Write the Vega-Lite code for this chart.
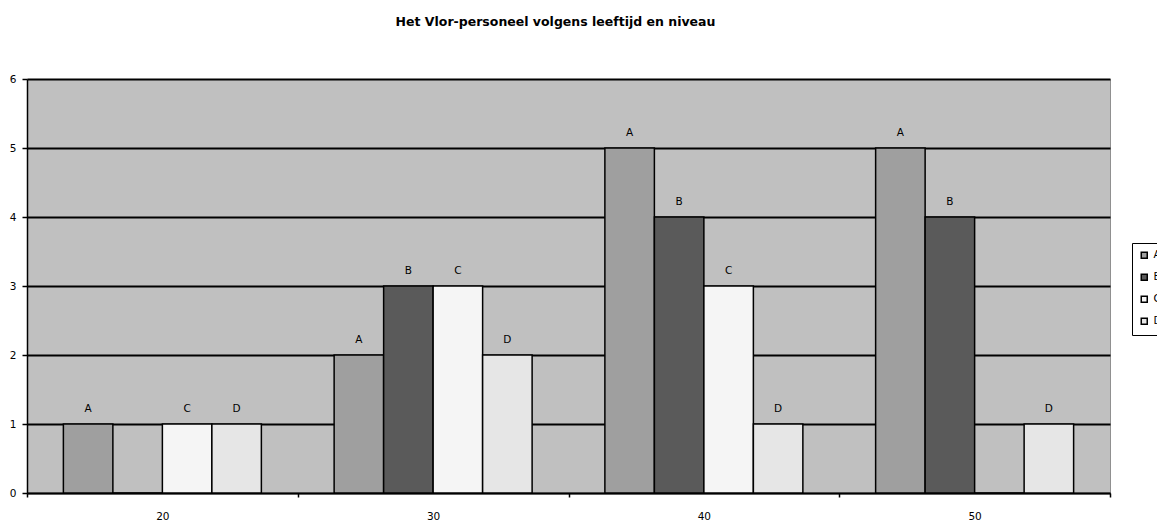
{
  "$schema": "https://vega.github.io/schema/vega-lite/v6.json",
  "width": 1083,
  "height": 414,
  "autosize": {"type": "none"},
  "padding": {"left": 27, "top": 79, "right": 47, "bottom": 27},
  "background": "white",
  "title": {
    "text": "Het Vlor-personeel volgens leeftijd en niveau",
    "font": "DejaVu Sans",
    "fontSize": 12.5,
    "fontWeight": "bold",
    "color": "black",
    "anchor": "middle",
    "offset": 46,
    "dx": -13
  },
  "config": {
    "view": {"fill": "#c0c0c0", "stroke": "#909090", "strokeWidth": 1},
    "font": "DejaVu Sans"
  },
  "data": {
    "values": [
      {"leeftijd": "20", "niveau": "A", "aantal": 1},
      {"leeftijd": "20", "niveau": "B", "aantal": 0},
      {"leeftijd": "20", "niveau": "C", "aantal": 1},
      {"leeftijd": "20", "niveau": "D", "aantal": 1},
      {"leeftijd": "30", "niveau": "A", "aantal": 2},
      {"leeftijd": "30", "niveau": "B", "aantal": 3},
      {"leeftijd": "30", "niveau": "C", "aantal": 3},
      {"leeftijd": "30", "niveau": "D", "aantal": 2},
      {"leeftijd": "40", "niveau": "A", "aantal": 5},
      {"leeftijd": "40", "niveau": "B", "aantal": 4},
      {"leeftijd": "40", "niveau": "C", "aantal": 3},
      {"leeftijd": "40", "niveau": "D", "aantal": 1},
      {"leeftijd": "50", "niveau": "A", "aantal": 5},
      {"leeftijd": "50", "niveau": "B", "aantal": 4},
      {"leeftijd": "50", "niveau": "C", "aantal": 0},
      {"leeftijd": "50", "niveau": "D", "aantal": 1}
    ]
  },
  "encoding": {
    "x": {
      "field": "leeftijd",
      "type": "nominal",
      "title": null,
      "scale": {"paddingInner": 0, "paddingOuter": 0},
      "axis": {
        "labelAngle": 0,
        "tickBand": "extent",
        "domainColor": "black",
        "domainWidth": 1.5,
        "tickColor": "black",
        "tickWidth": 1.5,
        "tickSize": 4,
        "labelPadding": 14,
        "labelFontSize": 10.5,
        "labelColor": "black",
        "grid": false
      }
    },
    "xOffset": {"field": "niveau", "type": "nominal", "scale": {"domain": ["A", "B", "C", "D"], "paddingInner": 0, "paddingOuter": 0.735}},
    "y": {
      "field": "aantal",
      "type": "quantitative",
      "title": null,
      "scale": {"domain": [0, 6], "nice": false},
      "axis": {
        "values": [0, 1, 2, 3, 4, 5, 6],
        "grid": true,
        "gridColor": "black",
        "gridWidth": 2,
        "gridOpacity": 1,
        "domainColor": "black",
        "domainWidth": 1.5,
        "tickColor": "black",
        "tickWidth": 1.5,
        "tickSize": 5,
        "labelPadding": 6,
        "labelFontSize": 10.5,
        "labelColor": "black"
      }
    }
  },
  "layer": [
    {
      "mark": {"type": "bar", "stroke": "black", "strokeWidth": 1.5},
      "encoding": {
        "color": {
          "field": "niveau",
          "type": "nominal",
          "title": null,
          "scale": {"domain": ["A", "B", "C", "D"], "range": ["#9f9f9f", "#5a5a5a", "#f5f5f5", "#e6e6e6"]},
          "legend": {
            "orient": "none",
            "legendX": 1105,
            "legendY": 164,
            "symbolType": "square",
            "symbolSize": 36,
            "symbolStrokeColor": "black",
            "symbolStrokeWidth": 1.5,
            "labelFontSize": 10.5,
            "labelColor": "black",
            "rowPadding": 9,
            "strokeColor": "black",
            "padding": 7,
            "fillColor": "white"
          }
        }
      }
    },
    {
      "transform": [{"filter": "datum.aantal > 0"}],
      "mark": {"type": "text", "dy": -15, "fontSize": 10.5, "color": "black", "baseline": "middle"},
      "encoding": {"text": {"field": "niveau"}}
    }
  ]
}
